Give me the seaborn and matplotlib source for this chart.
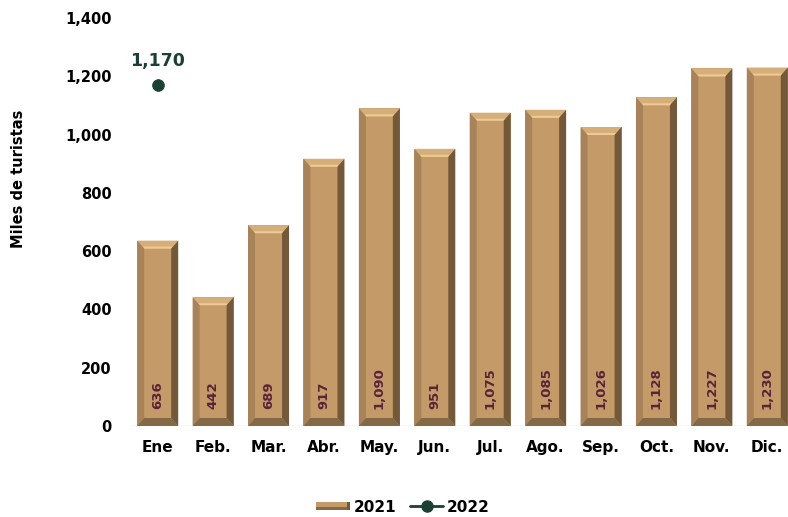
import matplotlib
matplotlib.use("Agg")
import matplotlib.pyplot as plt
import seaborn as sns
import pandas as pd
from matplotlib.patches import Polygon, Rectangle
from matplotlib.lines import Line2D
from matplotlib.legend_handler import HandlerBase

months = ["Ene", "Feb.", "Mar.", "Abr.", "May.", "Jun.", "Jul.", "Ago.", "Sep.", "Oct.", "Nov.", "Dic."]
values_2021 = [636, 442, 689, 917, 1090, 951, 1075, 1085, 1026, 1128, 1227, 1230]
months_2022 = ["Ene"]
values_2022 = [1170]
yticks = [0, 200, 400, 600, 800, 1000, 1200, 1400]

FACE = "#C49B68"
TOP = "#D6AE79"
HIGHLIGHT = "#EDCB93"
LEFT = "#A88259"
RIGHT = "#73593A"
BOTTOM = "#846947"
GREEN = "#1C3F33"
LABEL = "#5A2238"

sns.set_theme(style="white")
plt.rcParams["font.family"] = ["DejaVu Sans"]
plt.rcParams["font.weight"] = "bold"
plt.rcParams["text.color"] = "black"
plt.rcParams["axes.labelcolor"] = "black"
plt.rcParams["xtick.color"] = "black"
plt.rcParams["ytick.color"] = "black"

fig = plt.figure(figsize=(7.88, 5.17), dpi=100)
ax = fig.add_axes([130 / 788, 91 / 517, 665 / 788, 408 / 517])

df = pd.DataFrame({"mes": months, "valor": values_2021})
sns.barplot(data=df, x="mes", y="valor", color=FACE, width=0.74, saturation=1,
            linewidth=0, ax=ax, order=months)
ax.set_ylim(0, 1400)
ax.set_xlim(-0.5, len(months) - 0.5)

# bevel decorations derived from each bar's geometry
fig.canvas.draw()
bb = ax.get_window_extent()
px_x = (ax.get_xlim()[1] - ax.get_xlim()[0]) / bb.width
px_y = (ax.get_ylim()[1] - ax.get_ylim()[0]) / bb.height
bx = 7 * px_x
by = 8 * px_y
for p in list(ax.patches):
    x0 = p.get_x(); w = p.get_width(); h = p.get_height()
    x1 = x0 + w
    # top bevel
    ax.add_patch(Polygon([(x0, h), (x1, h), (x1 - bx, h - by), (x0 + bx, h - by)],
                         closed=True, facecolor=TOP, edgecolor="none", zorder=3))
    ax.add_patch(Polygon([(x0 + bx * 0.8, h - by * 0.75), (x1 - bx * 0.8, h - by * 0.75),
                          (x1 - bx, h - by), (x0 + bx, h - by)],
                         closed=True, facecolor=HIGHLIGHT, edgecolor="none", zorder=3))
    # left side
    ax.add_patch(Polygon([(x0, h), (x0 + bx, h - by), (x0 + bx, by), (x0, 0)],
                         closed=True, facecolor=LEFT, edgecolor="none", zorder=3))
    # right side
    ax.add_patch(Polygon([(x1, h), (x1 - bx, h - by), (x1 - bx, by), (x1, 0)],
                         closed=True, facecolor=RIGHT, edgecolor="none", zorder=3))
    # bottom
    ax.add_patch(Polygon([(x0, 0), (x1, 0), (x1 - bx, by), (x0 + bx, by)],
                         closed=True, facecolor=BOTTOM, edgecolor="none", zorder=3))

# value labels inside bars
for i, v in enumerate(values_2021):
    ax.annotate(f"{v:,}", xy=(i, 0), xytext=(0, 12), textcoords="offset points",
                rotation=90, ha="center", va="bottom", fontsize=9.5,
                fontweight="bold", color=LABEL, zorder=5)

# 2022 series
df22 = pd.DataFrame({"mes": months_2022, "valor": values_2022})
sns.scatterplot(data=df22, x="mes", y="valor", color=GREEN, s=70, ax=ax,
                zorder=6, legend=False, edgecolor=GREEN)
for m, v in zip(months_2022, values_2022):
    ax.annotate(f"{v:,}", xy=(months.index(m), v), xytext=(0, 11),
                textcoords="offset points", ha="center", va="bottom",
                fontsize=12.5, fontweight="bold", color=GREEN, zorder=6)

# axes styling
for s in ax.spines.values():
    s.set_visible(False)
ax.axhline(0, color="#D9D9D9", linewidth=1, zorder=1)
ax.set_yticks(yticks)
ax.set_yticklabels([f"{t:,}" for t in yticks], fontsize=10.5, fontweight="bold")
ax.tick_params(axis="y", length=0, pad=13)
ax.tick_params(axis="x", length=0, pad=10)
for lbl in ax.get_xticklabels():
    lbl.set_fontsize(11)
    lbl.set_fontweight("bold")
ax.set_xlabel("")
ax.set_ylabel("Miles de turistas", fontsize=10.5, fontweight="bold")
ax.yaxis.set_label_coords(-0.156, 0.605)
ax.grid(False)


class BevelHandler(HandlerBase):
    def create_artists(self, legend, orig_handle, xdescent, ydescent, width,
                       height, fontsize, trans):
        hh = height * 0.8
        y0 = -ydescent + (height - hh) / 2
        r1 = Rectangle((-xdescent, y0), width, hh, facecolor=FACE,
                       edgecolor="none", transform=trans)
        r2 = Rectangle((-xdescent, y0), width, hh * 0.35, facecolor=BOTTOM,
                       edgecolor="none", transform=trans)
        r3 = Rectangle((-xdescent + width * 0.92, y0), width * 0.08, hh,
                       facecolor=RIGHT, edgecolor="none", transform=trans)
        return [r1, r2, r3]


bar_handle = Rectangle((0, 0), 1, 1, facecolor=FACE)
line_handle = Line2D([0], [0], color=GREEN, marker="o", markersize=8, linewidth=2)
fig.legend([bar_handle, line_handle], ["2021", "2022"],
           handler_map={Rectangle: BevelHandler()},
           loc="center", bbox_to_anchor=(403 / 788, 1 - 507 / 517), ncol=2,
           frameon=False, prop={"weight": "bold", "size": 11},
           handlelength=2.2, handletextpad=0.25, columnspacing=0.9)

fig.savefig("out.png", dpi=100)
